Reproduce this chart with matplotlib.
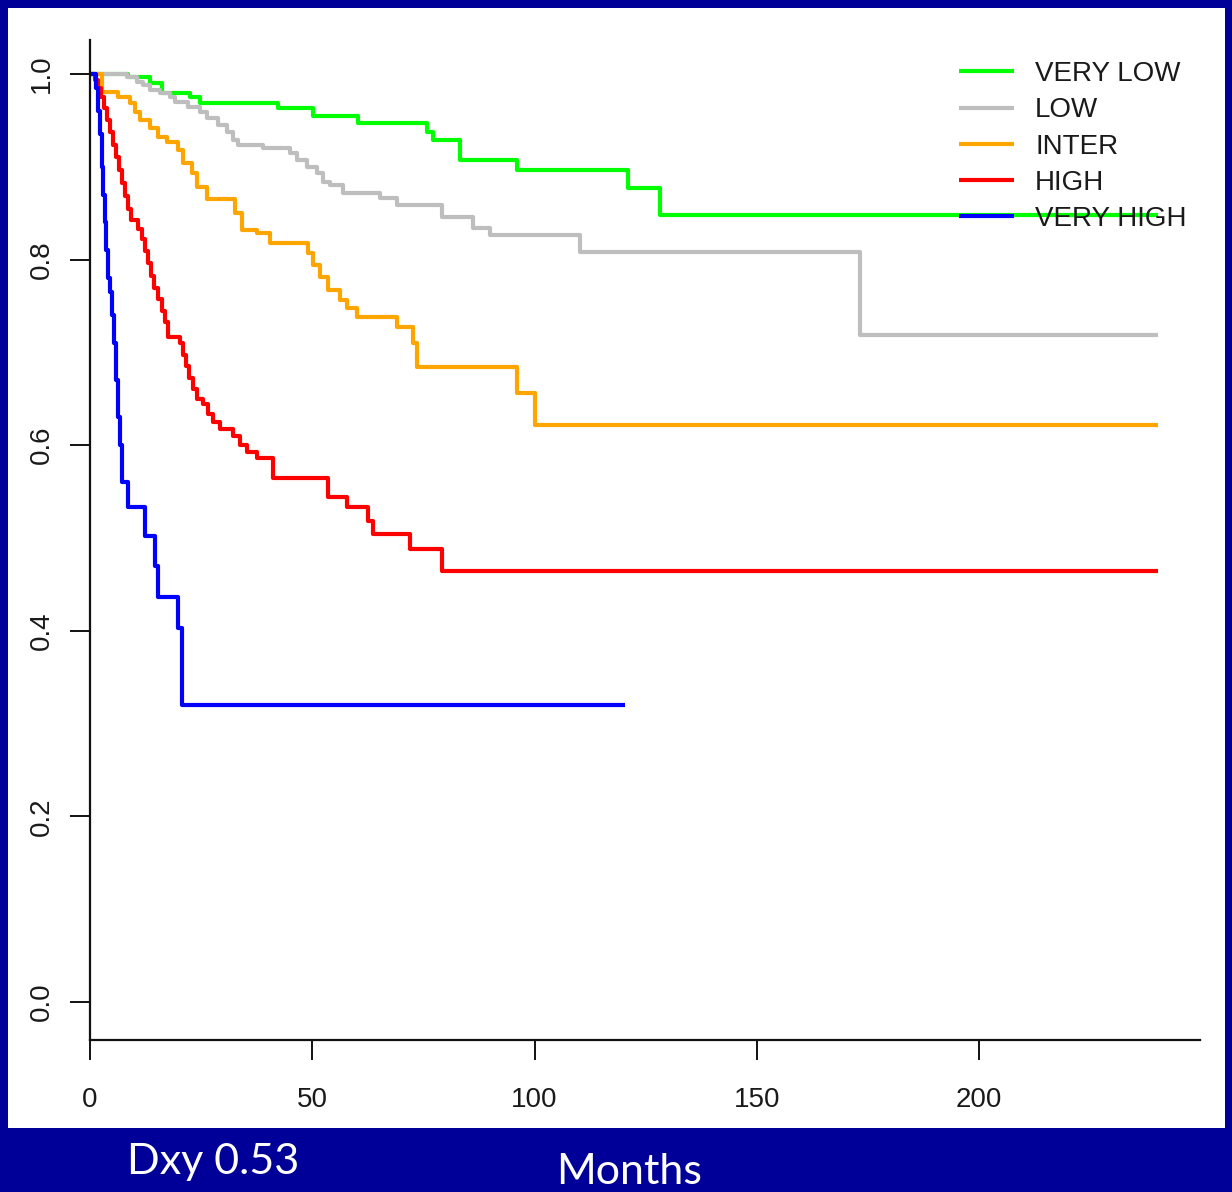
import matplotlib
matplotlib.use("Agg")
import matplotlib.pyplot as plt
from matplotlib.patches import Rectangle

# months / survival for each risk group
vlow_t = [0, 8.5, 13.5, 16.2, 22.5, 24.7, 42.3, 50.2, 60.3, 75.8, 77.2, 83.2, 96.1, 121.0, 128.2, 240.3]
vlow_s = [1.0, 0.997, 0.99, 0.98, 0.975, 0.969, 0.963, 0.955, 0.947, 0.937, 0.929, 0.907, 0.897, 0.877, 0.848, 0.848]

low_t = [0, 8.3, 10.6, 11.9, 13.5, 15.7, 18.0, 19.1, 22.0, 24.7, 26.3, 28.8, 30.8, 32.2, 33.3, 38.9,
         45.0, 46.6, 48.8, 51.1, 52.4, 54.0, 56.9, 65.2, 69.1, 79.2, 86.2, 90.0, 110.2, 173.2, 240.3]
low_s = [1.0, 0.997, 0.991, 0.988, 0.983, 0.979, 0.975, 0.970, 0.964, 0.959, 0.953, 0.945, 0.937, 0.929, 0.923, 0.920,
         0.915, 0.907, 0.900, 0.893, 0.884, 0.880, 0.872, 0.866, 0.859, 0.846, 0.834, 0.826, 0.808, 0.719, 0.719]

inter_t = [0, 2.7, 6.3, 9.0, 10.1, 11.2, 13.5, 15.3, 17.3, 19.8, 20.9, 22.9, 24.1, 26.3, 32.6, 34.2,
           37.6, 40.5, 49.0, 50.2, 51.7, 53.5, 56.2, 57.8, 60.1, 69.1, 72.7, 73.6, 96.1, 100.1, 240.3]
inter_s = [1.0, 0.981, 0.975, 0.969, 0.959, 0.950, 0.942, 0.932, 0.927, 0.918, 0.904, 0.893, 0.878, 0.865, 0.850, 0.832,
           0.829, 0.818, 0.807, 0.794, 0.781, 0.767, 0.756, 0.748, 0.738, 0.727, 0.710, 0.684, 0.656, 0.622, 0.622]

high_t = [0, 1.12, 1.80, 2.47, 3.15, 3.82, 4.50, 5.17, 5.85, 6.52, 7.20, 7.87, 8.55, 9.22, 10.80, 11.70,
          12.37, 13.05, 13.72, 14.40, 15.30, 16.20, 16.87, 17.55, 20.25, 20.92, 21.60, 22.27, 23.17, 24.07,
          25.42, 26.55, 27.67, 29.25, 32.17, 33.75, 35.32, 37.57, 41.17, 53.54, 57.82, 62.54, 63.67, 71.99,
          79.19, 240.3]
high_s = [1.0, 0.9935, 0.985, 0.975, 0.963, 0.950, 0.937, 0.923, 0.910, 0.896, 0.882, 0.868, 0.854, 0.843, 0.833, 0.822,
          0.809, 0.796, 0.782, 0.769, 0.757, 0.745, 0.733, 0.717, 0.710, 0.697, 0.685, 0.672, 0.660, 0.650,
          0.644, 0.634, 0.625, 0.617, 0.610, 0.600, 0.593, 0.586, 0.565, 0.544, 0.533, 0.518, 0.504, 0.488,
          0.464, 0.464]

vhigh_t = [0, 1.35, 1.8, 2.25, 2.7, 3.0, 3.4, 3.7, 4.05, 4.5, 4.95, 5.4, 5.85, 6.3, 6.75, 7.2, 8.55,
           12.4, 14.6, 15.3, 19.8, 20.7, 120.4]
vhigh_s = [1.0, 0.985, 0.96, 0.935, 0.90, 0.87, 0.84, 0.81, 0.78, 0.765, 0.74, 0.71, 0.67, 0.63, 0.60, 0.56, 0.533,
           0.502, 0.47, 0.436, 0.403, 0.32, 0.32]

labels = ["VERY LOW", "LOW", "INTER", "HIGH", "VERY HIGH"]
colors = ["#00FF00", "#BEBEBE", "#FFA500", "#FF0000", "#0000FF"]
xticks = [0, 50, 100, 150, 200]
yticks = [0.0, 0.2, 0.4, 0.6, 0.8, 1.0]

W, H = 1232, 1192
fig = plt.figure(figsize=(W / 100, H / 100), dpi=100)
fig.patch.set_facecolor("#000099")

# white slide panel
fig.patches.append(Rectangle((8 / W, 64 / H), 1217 / W, 1120 / H, transform=fig.transFigure,
                             facecolor="white", edgecolor="none", zorder=-10))

ax = fig.add_axes([90 / W, 152 / H, 1110 / W, 1000 / H])
ax.set_facecolor("none")

series = [(vlow_t, vlow_s), (low_t, low_s), (inter_t, inter_s), (high_t, high_s), (vhigh_t, vhigh_s)]
for (t, s), c, lab in zip(series, colors, labels):
    ax.step(t, s, where="post", color=c, lw=3.0, label=lab, solid_capstyle="butt")

ax.set_xlim(0, 249.7)
ax.set_ylim(-0.041, 1.0366)
ax.set_xticks(xticks)
ax.set_yticks(yticks)
ax.set_yticklabels([f"{v:.1f}" for v in yticks], rotation=90, va="center")

for side in ["top", "right"]:
    ax.spines[side].set_visible(False)
for side in ["left", "bottom"]:
    ax.spines[side].set_linewidth(1.6)
    ax.spines[side].set_color("#111111")

ax.tick_params(axis="both", length=14.5, width=1.4, color="#111111", labelcolor="#1a1a1a",
               labelsize=20)
ax.tick_params(axis="x", pad=19)
ax.tick_params(axis="y", pad=11)
for lab in ax.get_xticklabels() + ax.get_yticklabels():
    lab.set_fontfamily("Liberation Sans")

leg = ax.legend(loc="upper right", bbox_to_anchor=(0.988, 0.979), frameon=False,
                prop={"family": "Liberation Sans", "size": 20}, handlelength=2.0,
                handletextpad=0.75, labelspacing=0.37, borderpad=0, borderaxespad=0)
for line in leg.get_lines():
    line.set_linewidth(3.0)
for txt in leg.get_texts():
    txt.set_color("#1a1a1a")

fig.text(213 / W, 1 - 1162 / H, "Dxy 0.53", color="white", fontsize=31, family="Lato",
         ha="center", va="center")
fig.text(629 / W, 1 - 1172 / H, "Months", color="white", fontsize=31, family="Lato",
         ha="center", va="center")

fig.savefig("out.png", dpi=100, facecolor=fig.get_facecolor())
